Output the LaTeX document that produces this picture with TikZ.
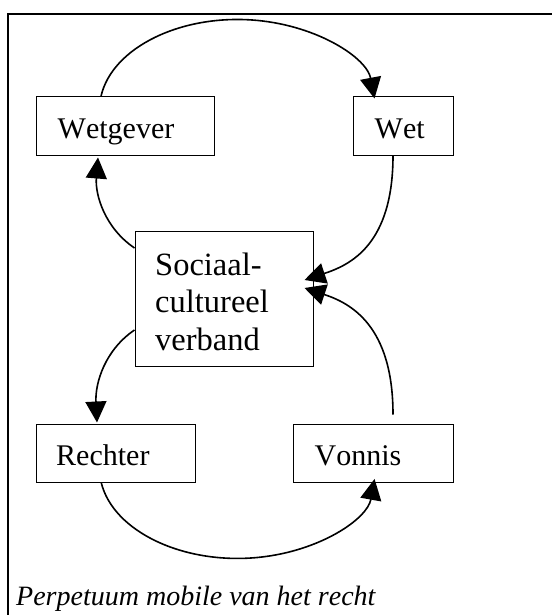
\documentclass[tikz,border=0pt]{standalone}
\usepackage{fontspec}
\setmainfont[Kerning=Off]{Liberation Serif}
\usetikzlibrary{arrows.meta,calc}
\begin{document}
\begin{tikzpicture}[x=1pt,y=1pt,
  box/.style={draw, line width=1pt, fill=white, inner sep=0pt},
  lbl/.style={anchor=base west, inner sep=0pt, font=\fontsize{30}{36}\selectfont},
  biglbl/.style={anchor=base west, inner sep=0pt, font=\fontsize{32.5}{37.5}\selectfont},
  conn/.style={line width=1.6pt, -{Triangle[length=21pt,width=21pt]}},
  plain/.style={line width=1.6pt}
]
\fill[white] (0,0) rectangle (551,-615);
\useasboundingbox (0,0) rectangle (551,-615);
% frame
\draw[line width=2.4pt, line join=miter] (8,-625) -- (8,-14) -- (560,-14);

% boxes
\node[box, minimum width=178pt, minimum height=58pt] (wg) at (125,-126) {};
\node[box, minimum width=100pt, minimum height=58pt] (wet) at (403,-126) {};
\node[box, minimum width=178pt, minimum height=135pt] (soc) at (224,-298.5) {};
\node[box, minimum width=159pt, minimum height=58pt] (re) at (115.5,-453) {};
\node[box, minimum width=160pt, minimum height=58pt] (vo) at (373,-453) {};

% texts
\node[lbl] (twg) at (57.5,-138) {Wetgever};
\node[lbl] (twet) at (374.5,-138) {Wet};
\node[biglbl] (ts1) at (155,-275) {Sociaal-};
\node[biglbl] (ts2) at (155,-312.5) {cultureel};
\node[biglbl] (ts3) at (155,-350) {verband};
\node[lbl] (tre) at (56,-465) {Rechter};
\node[lbl] (tvo) at (314.5,-465) {Vonnis};
\node[anchor=base west, inner sep=0pt, font=\fontsize{28}{34}\selectfont\itshape] (cap) at (16,-605) {Perpetuum mobile van het recht};

% connectors
\draw[conn] ([xshift=65.45pt]wg.north west) arc[start angle=171.7, end angle=7, x radius=138pt, y radius=90pt];
\draw[conn] ([xshift=-10pt]wet.south) .. controls (393,-245) and (350,-265) .. ($(soc.east)+(-9,18.5)$);
\draw[conn] ($(vo.north)+(20,9)$) .. controls (393,-325) and (350,-303) .. ($(soc.east)+(-9,10.5)$);
\draw[conn] ($(soc.west)+(0,50.5)$) .. controls (105,-228) and (95,-195) .. ($(wg.south)+(-27,-2)$);
\draw[conn] ($(soc.west)+(0,-31.5)$) .. controls (105,-350) and (95,-383) .. ($(re.north)+(-18.5,1)$);
\draw[conn] ([xshift=65.7pt]re.south west) arc[start angle=189, end angle=353.3, x radius=138pt, y radius=90pt];
\end{tikzpicture}
\end{document}
